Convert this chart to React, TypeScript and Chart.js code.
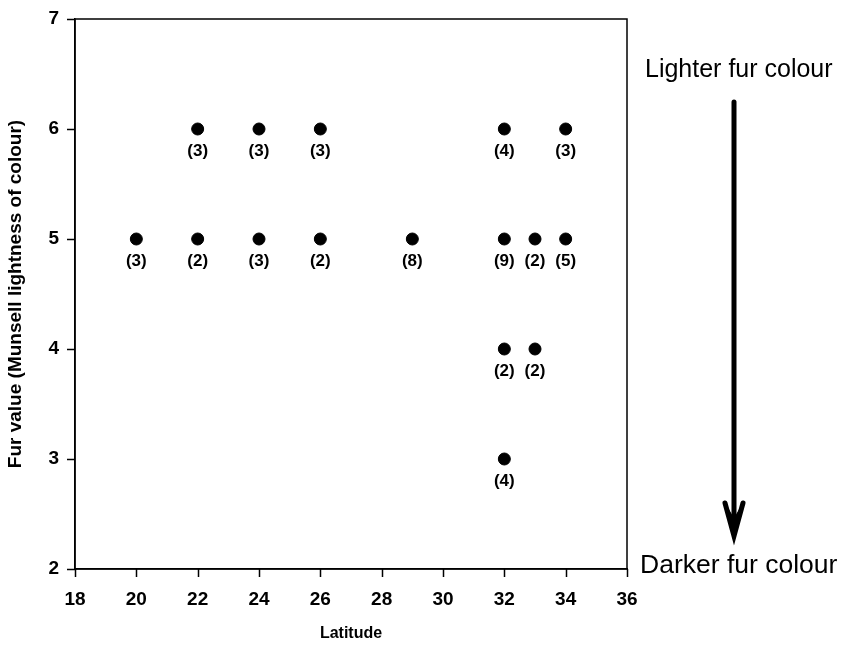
import React, { useEffect, useRef } from "react";
import { Chart, registerables } from "chart.js";

Chart.register(...registerables);

const latitudes = [20, 22, 22, 24, 24, 26, 26, 29, 32, 32, 32, 32, 33, 33, 34, 34];
const furValues = [5, 6, 5, 6, 5, 6, 5, 5, 6, 5, 4, 3, 5, 4, 6, 5];
const sampleCounts = [3, 3, 2, 3, 3, 3, 2, 8, 4, 9, 2, 4, 2, 2, 3, 5];
const xTicks = [18, 20, 22, 24, 26, 28, 30, 32, 34, 36];
const yTicks = [2, 3, 4, 5, 6, 7];

const FONT = "'Liberation Sans', Arial, sans-serif";

const decorPlugin = {
  id: "decor",
  afterDatasetsDraw(chart: any) {
    const { ctx, chartArea } = chart;
    const xs = chart.scales.x;
    const ys = chart.scales.y;
    ctx.save();
    // frame
    ctx.strokeStyle = "#000";
    ctx.lineWidth = 1.5;
    ctx.strokeRect(chartArea.left, chartArea.top, chartArea.right - chartArea.left, chartArea.bottom - chartArea.top);
    // tick marks
    ctx.beginPath();
    xTicks.forEach((v) => {
      const px = Math.round(xs.getPixelForValue(v)) + 0.5;
      ctx.moveTo(px, chartArea.bottom);
      ctx.lineTo(px, chartArea.bottom + 8);
    });
    yTicks.forEach((v) => {
      const py = Math.round(ys.getPixelForValue(v)) + 0.5;
      ctx.moveTo(chartArea.left, py);
      ctx.lineTo(chartArea.left - 8, py);
    });
    ctx.stroke();
    // count labels
    ctx.fillStyle = "#000";
    ctx.font = `bold 17px ${FONT}`;
    ctx.textAlign = "center";
    ctx.textBaseline = "middle";
    latitudes.forEach((lat, i) => {
      const px = xs.getPixelForValue(lat);
      const py = ys.getPixelForValue(furValues[i]);
      ctx.fillText(`(${sampleCounts[i]})`, px, py + 22);
    });
    // annotation texts
    ctx.textAlign = "left";
    ctx.font = `25px ${FONT}`;
    ctx.fillText("Lighter fur colour", 645, 70);
    ctx.font = `26.5px ${FONT}`;
    ctx.fillText("Darker fur colour", 640, 566);
    // arrow
    const ax = 734;
    ctx.lineCap = "round";
    ctx.lineWidth = 5;
    ctx.beginPath();
    ctx.moveTo(ax, 102);
    ctx.lineTo(ax, 528);
    ctx.stroke();
    ctx.beginPath();
    ctx.moveTo(ax - 9, 503);
    ctx.lineTo(ax, 536);
    ctx.lineTo(ax + 9, 503);
    ctx.stroke();
    ctx.beginPath();
    ctx.moveTo(ax - 8, 504);
    ctx.lineTo(ax, 537);
    ctx.lineTo(ax + 8, 504);
    ctx.lineTo(ax, 518);
    ctx.closePath();
    ctx.fill();
    ctx.restore();
  },
};

export default function App() {
  const ref = useRef<HTMLCanvasElement>(null);
  useEffect(() => {
    document.body.style.margin = "0";
    const canvas = ref.current!;
    const chart = new Chart(canvas, {
      type: "scatter",
      data: {
        datasets: [
          {
            data: latitudes.map((x, i) => ({ x, y: furValues[i] })),
            backgroundColor: "#000",
            borderColor: "#000",
            pointRadius: 6,
            pointHoverRadius: 6,
          },
        ],
      },
      options: {
        animation: false,
        responsive: false,
        devicePixelRatio: 1,
        layout: { padding: { top: 19, right: 219, left: 0, bottom: 0 } },
        plugins: { legend: { display: false }, tooltip: { enabled: false } },
        scales: {
          x: {
            type: "linear",
            min: 18,
            max: 36,
            afterBuildTicks: (s: any) => {
              s.ticks = xTicks.map((v) => ({ value: v }));
            },
            afterFit: (s: any) => {
              s.height = 78;
              s.paddingLeft = 0;
              s.paddingRight = 0;
            },
            grid: { display: false },
            border: { display: true, color: "#000", width: 1.5 },
            ticks: { color: "#000", font: { family: FONT, size: 19, weight: "bold" }, padding: 11, maxRotation: 0 },
            title: { display: true, text: "Latitude", color: "#000", font: { family: FONT, size: 16, weight: "bold" }, padding: { top: 5 } },
          },
          y: {
            type: "linear",
            min: 2,
            max: 7,
            afterBuildTicks: (s: any) => {
              s.ticks = yTicks.map((v) => ({ value: v }));
            },
            afterFit: (s: any) => {
              s.width = 75;
              s.paddingTop = 0;
              s.paddingBottom = 0;
            },
            grid: { display: false },
            border: { display: true, color: "#000", width: 1.5 },
            ticks: { color: "#000", font: { family: FONT, size: 19, weight: "bold" }, padding: 8 },
            title: { display: true, text: "Fur value (Munsell lightness of colour)", color: "#000", font: { family: FONT, size: 19, weight: "bold" }, padding: { bottom: 0 } },
          },
        },
      } as any,
      plugins: [decorPlugin],
    });
    return () => chart.destroy();
  }, []);
  return (
    <div style={{ width: 846, height: 647, background: "#fff" }}>
      <canvas ref={ref} width={846} height={647} style={{ display: "block" }} />
    </div>
  );
}
